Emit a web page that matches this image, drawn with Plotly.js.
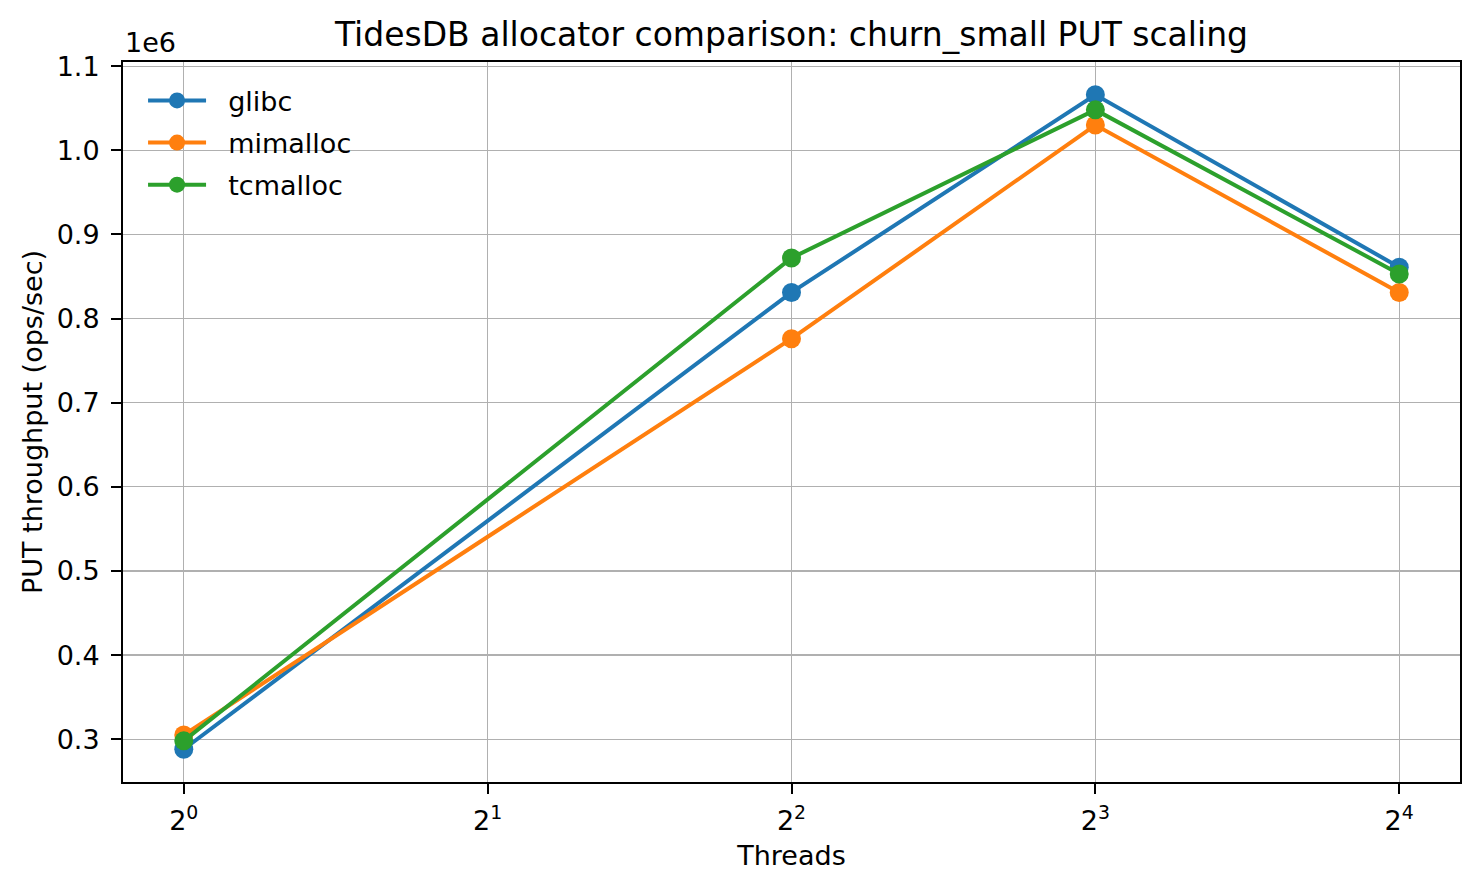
<!DOCTYPE html>
<html>
<head>
<meta charset="utf-8">
<script src="https://cdn.plot.ly/plotly-3.0.1.min.js"></script>
<style>
  html, body { margin: 0; padding: 0; background: #fff; }
  #plot { width: 1480px; height: 890px; }
</style>
</head>
<body>
<div id="plot"></div>
<script>
// data
const threads = [1, 4, 8, 16];
const glibc = [288000, 831000, 1066000, 861000];
const mimalloc = [305000, 776000, 1030000, 831000];
const tcmalloc = [298000, 872000, 1048000, 853000];

const xTickVals = [1, 2, 4, 8, 16];
const xTickText = ['2<sup>0</sup>', '2<sup>1</sup>', '2<sup>2</sup>', '2<sup>3</sup>', '2<sup>4</sup>'];
const yTickVals = [300000, 400000, 500000, 600000, 700000, 800000, 900000, 1000000, 1100000];
const yTickText = ['0.3', '0.4', '0.5', '0.6', '0.7', '0.8', '0.9', '1.0', '1.1'];

const font = 'DejaVu Sans, sans-serif';

function series(name, y, color) {
    return {
        x: threads,
        y: y,
        // nbsp padding to push legend text away from the symbol like matplotlib
        name: '\u00a0\u00a0' + name,
        legendgroup: name,
        type: 'scatter',
        mode: 'lines+markers',
        line: { color: color, width: 4 },
        marker: { color: color, size: 19 },
    };
}

const data = [
    series('glibc', glibc, '#1f77b4'),
    series('mimalloc', mimalloc, '#ff7f0e'),
    series('tcmalloc', tcmalloc, '#2ca02c'),
];

// matplotlib-like 5% margins
const allY = glibc.concat(mimalloc, tcmalloc);
const yMin = Math.min(...allY), yMax = Math.max(...allY);
const yPad = (yMax - yMin) * 0.05;
const lx0 = Math.log10(threads[0]), lx1 = Math.log10(threads[threads.length - 1]);
const xPad = (lx1 - lx0) * 0.05;

const axisCommon = {
    showline: true,
    mirror: true,
    linecolor: 'black',
    linewidth: 2,
    ticks: 'outside',
    ticklen: 10,
    tickwidth: 2,
    tickcolor: 'black',
    showgrid: true,
    gridcolor: '#b0b0b0',
    gridwidth: 1.2,
    zeroline: false,
    tickfont: { family: font, size: 27, color: 'black' },
};

const layout = {
    width: 1480,
    height: 890,
    margin: { l: 123, r: 20, t: 62, b: 108 },
    paper_bgcolor: 'white',
    plot_bgcolor: 'white',
    font: { family: font, color: 'black' },
    title: {
        text: 'TidesDB allocator comparison: churn_small PUT scaling',
        font: { family: font, size: 33, color: 'black' },
        x: 0.5, xref: 'paper',
        y: 1 - 34 / 890, yref: 'container', yanchor: 'middle',
    },
    xaxis: Object.assign({}, axisCommon, {
        type: 'log',
        range: [lx0 - xPad, lx1 + xPad],
        tickmode: 'array',
        tickvals: xTickVals,
        ticktext: xTickText,
        ticklabelstandoff: 4,
        title: { text: 'Threads', font: { family: font, size: 27, color: 'black' }, standoff: 11 },
    }),
    yaxis: Object.assign({}, axisCommon, {
        range: [yMin - yPad, yMax + yPad],
        tickmode: 'array',
        tickvals: yTickVals,
        ticktext: yTickText,
        ticklabelstandoff: 6,
        title: { text: 'PUT throughput (ops/sec)', font: { family: font, size: 27, color: 'black' }, standoff: 6 },
    }),
    showlegend: true,
    legend: {
        x: 0.015, y: 0.98,
        xanchor: 'left', yanchor: 'top',
        bgcolor: 'rgba(0,0,0,0)',
        borderwidth: 0,
        font: { family: font, size: 27, color: 'black' },
        itemwidth: 58,
        traceorder: 'grouped',
        tracegroupgap: 4,
    },
    annotations: [{
        text: '1e6',
        xref: 'paper', yref: 'paper',
        x: 0, y: 1,
        xanchor: 'left', yanchor: 'bottom',
        yshift: 2,
        showarrow: false,
        font: { family: font, size: 27, color: 'black' },
    }],
};

Plotly.newPlot('plot', data, layout, { staticPlot: true });
</script>
</body>
</html>
